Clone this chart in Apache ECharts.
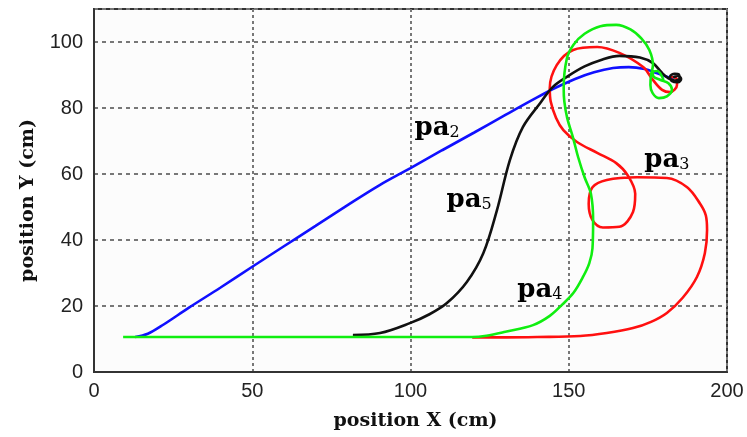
<!DOCTYPE html>
<html>
<head>
<meta charset="utf-8">
<script src="https://cdn.jsdelivr.net/npm/echarts@6/dist/echarts.min.js"></script>
<style>
html,body{margin:0;padding:0;background:#ffffff;}
#chart{width:747px;height:437px;}
</style>
</head>
<body>
<div id="chart"></div>
<script>
// ---- data ----
const pa2X = [13, 17, 22, 30, 40, 50, 60, 70, 80, 90, 100, 110, 120, 130, 140, 146, 152, 158, 164, 169, 174, 178, 181, 183];
const pa2Y = [10.6, 11.6, 14.4, 19.5, 25.6, 31.9, 38.1, 44.3, 50.5, 56.5, 61.8, 67.2, 72.5, 77.9, 83.2, 86.2, 88.8, 90.8, 92.1, 92.4, 91.8, 90.5, 89.5, 88.8];

const pa3X = [119.5, 130, 140, 153.6, 162, 170.3, 176, 181, 186, 190.5, 193, 193.7, 193.3, 191.5, 187.4, 181, 171.6, 162, 157.5, 156.3, 157.5, 160.8, 166, 170.3, 171, 168.7, 165, 159, 152.6, 148.3, 146, 144.3, 144, 146.2, 151.4, 159, 166, 173.5, 176.6, 179.5, 182, 184.2, 184, 182];
const pa3Y = [10.5, 10.5, 10.6, 10.9, 11.8, 13.3, 15.2, 17.9, 22.5, 28.8, 36, 43, 47.5, 51, 56, 58.8, 59, 58.2, 56, 51, 46, 43.8, 44, 48.5, 54, 59.5, 63.3, 66.4, 69.7, 73.3, 77, 82, 86, 93, 97.6, 98.5, 96.7, 92.4, 88.5, 85.5, 84.8, 87, 89, 89.4];

const pa5X = [81.8, 90.4, 99.8, 106, 111.5, 117.8, 123, 127.3, 131.4, 135.5, 141, 145, 150, 155, 160, 166, 172.5, 176.6, 179.5, 181.5, 183.5, 185, 184.8, 183.5, 182, 182.5, 184.5, 185.5, 184.5, 183];
const pa5Y = [11.2, 11.8, 14.8, 17.5, 20.9, 27.3, 36, 49, 64.2, 74.2, 81.5, 86.4, 89.8, 92.6, 94.5, 95.8, 95.3, 93.6, 90.6, 89, 88.3, 89, 90.2, 90.4, 89.5, 88.2, 87.8, 88.8, 89.8, 89.2];

const pa4X = [9.2, 30, 60, 90, 119.5, 124, 130, 138.7, 144, 148, 151.5, 154.5, 156.5, 157.5, 157.7, 157, 155, 153, 151.3, 149.5, 148.6, 148.4, 149.4, 151.5, 155, 160, 165, 169.5, 173, 175.5, 176.6, 176, 175.8, 176.5, 178.5, 181, 182.6, 181.5, 179, 176.8, 176.5, 178, 179.5, 180];
const pa4Y = [10.6, 10.6, 10.6, 10.6, 10.6, 11, 12.2, 14.2, 17, 20.5, 24, 28.8, 33, 37.5, 46, 54, 59, 65, 71.2, 77, 82, 86, 95, 99.2, 102.5, 104.8, 105.2, 103.8, 101, 97.5, 93, 90, 87, 84.5, 83, 83.5, 85.5, 87.5, 88.5, 89.5, 91, 91.2, 89.5, 88];

const labelMain = ['pa', 'pa', 'pa', 'pa'];
const labelSub = ['2', '5', '4', '3'];
const labelX = [108.4, 118.5, 140.9, 181];
const labelY = [73.9, 52.1, 24.8, 64.2];

const xTicks = [0, 50, 100, 150, 200];
const yTicks = [0, 20, 40, 60, 80, 100];

function zip(xs, ys) { return xs.map((x, i) => [x, ys[i]]); }

const chart = echarts.init(document.getElementById('chart'), null, {renderer: 'canvas'});

const lineSeries = (name, xs, ys, color) => ({
  name: name,
  type: 'line',
  data: zip(xs, ys),
  showSymbol: false,
  smooth: 0.35,
  lineStyle: {color: color, width: 2.6},
  itemStyle: {color: color},
  animation: false,
  z: 3
});

const option = {
  backgroundColor: '#ffffff',
  animation: false,
  grid: {left: 94, right: 20, top: 9, bottom: 65, show: true, borderColor: '#333', borderWidth: 2, backgroundColor: '#fcfcfc'},
  xAxis: {
    type: 'value', min: 0, max: 200, interval: 50,
    name: 'position X (cm)', nameLocation: 'middle', nameGap: 40,
    nameTextStyle: {fontFamily: 'DejaVu Serif', fontWeight: 'bold', fontSize: 19, color: '#111', padding: [0, 0, 0, 10]},
    axisLine: {show: true, lineStyle: {color: '#333', width: 2}},
    axisTick: {show: false},
    axisLabel: {fontFamily: 'Liberation Sans', fontSize: 20, color: '#222', margin: 9,
      formatter: v => xTicks.includes(v) ? String(v) : ''},
    splitLine: {show: true, lineStyle: {color: '#777', width: 2, type: [3, 3]}}
  },
  yAxis: {
    type: 'value', min: 0, max: 110, interval: 20,
    name: 'position Y (cm)', nameLocation: 'middle', nameGap: 56,
    nameTextStyle: {fontFamily: 'DejaVu Serif', fontWeight: 'bold', fontSize: 19, color: '#111', padding: [0, 20, 0, 0]},
    axisLine: {show: true, lineStyle: {color: '#333', width: 2}},
    axisTick: {show: false},
    axisLabel: {fontFamily: 'Liberation Sans', fontSize: 20, color: '#222', margin: 11, showMaxLabel: false,
      formatter: v => yTicks.includes(v) ? String(v) : ''},
    splitLine: {show: true, lineStyle: {color: '#777', width: 2, type: [4, 4]}}
  },
  series: [
    lineSeries('pa2', pa2X, pa2Y, '#1010ff'),
    lineSeries('pa3', pa3X, pa3Y, '#ff1010'),
    lineSeries('pa5', pa5X, pa5Y, '#111111'),
    lineSeries('pa4', pa4X, pa4Y, '#10ee10'),
    {
      name: 'labels', type: 'scatter', symbolSize: 0, z: 5, animation: false,
      itemStyle: {color: '#000', opacity: 1},
      data: labelX.map((x, i) => ({value: [x, labelY[i]], main: labelMain[i], sub: labelSub[i]})),
      label: {
        show: true, position: 'inside', color: '#000', textBorderWidth: 0, opacity: 1,
        formatter: p => '{p|' + p.data.main + '}{s|' + p.data.sub + '}',
        rich: {
          p: {fontFamily: 'DejaVu Serif', fontWeight: 'bold', fontSize: 26, color: '#000', textBorderWidth: 0},
          s: {fontFamily: 'DejaVu Serif', fontSize: 16, color: '#000', textBorderWidth: 0, padding: [9, 0, 0, 0]}
        }
      }
    }
  ]
};
chart.setOption(option);
</script>
</body>
</html>
